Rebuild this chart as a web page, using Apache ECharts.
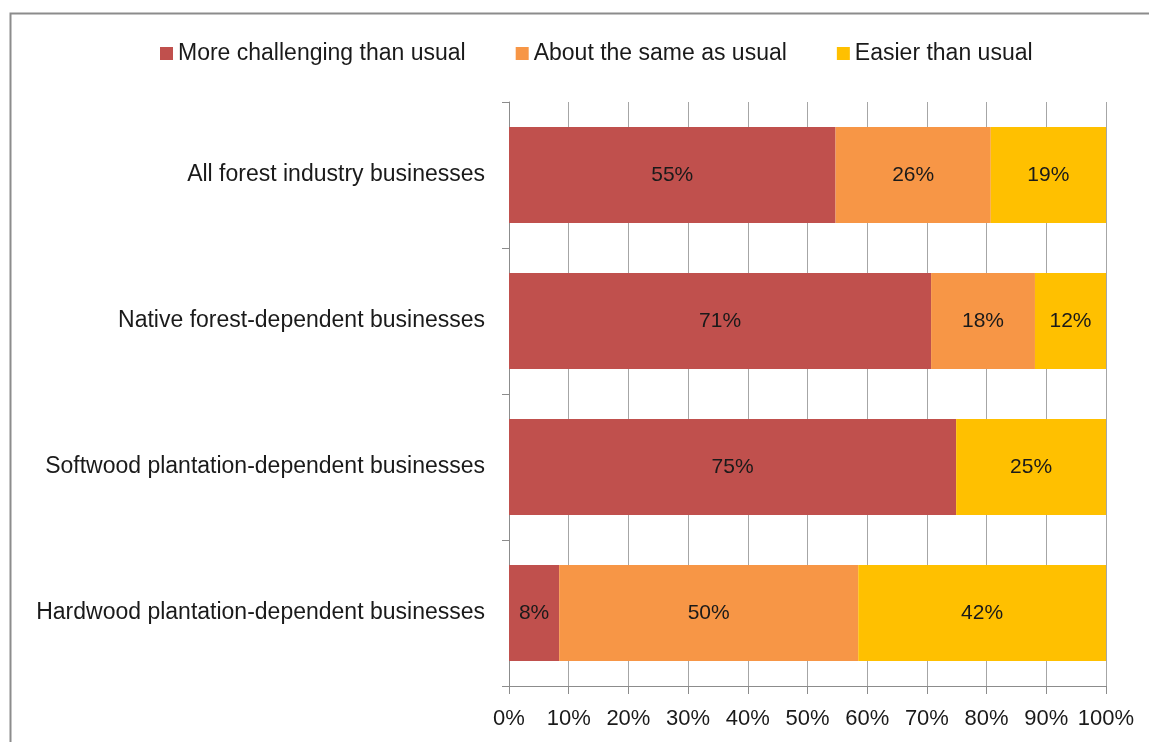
<!DOCTYPE html>
<html>
<head>
<meta charset="utf-8">
<script src="https://cdn.jsdelivr.net/npm/echarts@6/dist/echarts.min.js"></script>
<style>
  html, body { margin: 0; padding: 0; background: #fff; }
  #chart { width: 1149px; height: 742px; }
</style>
</head>
<body>
<div id="chart"></div>
<script>
  // data
  var categories = [
    'All forest industry businesses',
    'Native forest-dependent businesses',
    'Softwood plantation-dependent businesses',
    'Hardwood plantation-dependent businesses'
  ]
  var seriesNames = ['More challenging than usual', 'About the same as usual', 'Easier than usual']
  var moreChallenging = [54.7, 70.7, 74.9, 8.4]
  var aboutSame = [26.0, 17.4, 0, 50.1]
  var easier = [19.3, 11.9, 25.1, 41.5]
  // labels as printed on the bars
  var moreLabels = ['55%', '71%', '75%', '8%']
  var sameLabels = ['26%', '18%', '', '50%']
  var easierLabels = ['19%', '12%', '25%', '42%']
  var xTicks = [0, 10, 20, 30, 40, 50, 60, 70, 80, 90, 100]

  var font = 'Liberation Sans'
  var textColor = '#1a1a1a'

  function makeSeries(name, data, labels, color) {
    return {
      name: name,
      type: 'bar',
      stack: 'total',
      data: data,
      barWidth: 96,
      itemStyle: { color: color },
      label: {
        show: true,
        position: 'inside',
        color: textColor,
        fontFamily: font,
        fontSize: 21,
        formatter: function (p) { return labels[p.dataIndex] }
      }
    }
  }

  var dom = echarts.init(document.getElementById('chart'))
  var option = {
    animation: false,
    textStyle: { fontFamily: font },
    graphic: [{
      type: 'rect',
      shape: { x: 10.5, y: 13.5, width: 1200, height: 800 },
      style: { fill: 'none', stroke: '#8c8c8c', lineWidth: 2 },
      z: -1
    }],
    legend: {
      top: 37,
      left: 155,
      itemWidth: 13,
      itemHeight: 13,
      itemGap: 50,
      icon: 'rect',
      textStyle: { fontFamily: font, fontSize: 23, color: textColor },
      data: seriesNames
    },
    grid: {
      left: 509,
      right: 43,
      top: 102,
      bottom: 56
    },
    xAxis: {
      type: 'value',
      min: 0,
      max: 100,
      interval: 10,
      axisLine: { show: true, lineStyle: { color: '#8c8c8c', width: 1 } },
      axisTick: { show: true, length: 8, lineStyle: { color: '#8c8c8c' } },
      axisLabel: {
        color: textColor,
        fontFamily: font,
        fontSize: 22,
        margin: 22,
        formatter: function (v) { return xTicks.indexOf(v) >= 0 ? v + '%' : '' }
      },
      splitLine: { show: true, lineStyle: { color: '#a6a6a6', width: 1 } }
    },
    yAxis: {
      type: 'category',
      inverse: true,
      data: categories,
      axisLine: { show: true, lineStyle: { color: '#8c8c8c', width: 1 } },
      axisTick: { show: true, length: 7, lineStyle: { color: '#8c8c8c' } },
      axisLabel: {
        color: textColor,
        fontFamily: font,
        fontSize: 23,
        margin: 24
      }
    },
    series: [
      makeSeries(seriesNames[0], moreChallenging, moreLabels, '#C0504D'),
      makeSeries(seriesNames[1], aboutSame, sameLabels, '#F79646'),
      makeSeries(seriesNames[2], easier, easierLabels, '#FFC000')
    ]
  }
  dom.setOption(option)
</script>
</body>
</html>
